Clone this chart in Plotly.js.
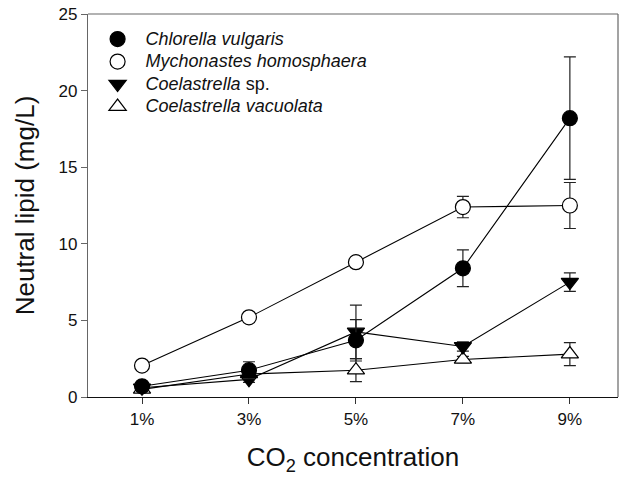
<!DOCTYPE html>
<html>
<head>
<meta charset="utf-8">
<script src="https://cdn.plot.ly/plotly-3.0.1.min.js"></script>
<style>html,body{margin:0;padding:0;background:#fff;}#chart{width:623px;height:478px;}</style>
</head>
<body>
<div id="chart"></div>
<script>
const categories = ["1%", "3%", "5%", "7%", "9%"];

const chlorella = [0.7, 1.75, 3.7, 8.4, 18.2];
const chlorellaErr = [0.15, 0.55, 1.35, 1.2, 4.0];

const mychonastes = [2.05, 5.2, 8.8, 12.4, 12.5];
const mychonastesErr = [0.1, 0.15, 0.15, 0.7, 1.5];

const coelSp = [0.6, 1.15, 4.25, 3.3, 7.5];
const coelSpErr = [0.1, 0.2, 1.75, 0.3, 0.6];

const coelVac = [0.5, 1.5, 1.75, 2.45, 2.8];
const coelVacErr = [0.1, 0.2, 0.75, 0.2, 0.75];

const names = ["<i>Chlorella vulgaris</i>", "<i>Mychonastes homosphaera</i>", "<i>Coelastrella</i> sp.", "<i>Coelastrella vacuolata</i>"];

function big(s) { return '<span style="font-size:18px">' + s + '</span>'; }

function lineTrace(y) {
  return {x: categories, y: y, type: "scatter", mode: "lines", showlegend: false,
          hoverinfo: "skip", line: {color: "#000", width: 1.1}};
}
function markTrace(y, err, name, symbol, fill, rank) {
  return {
    x: categories, y: y, name: big(name), type: "scatter", mode: "markers", legendrank: rank,
    marker: {symbol: symbol, size: 15, color: fill, line: {color: "#000", width: 1.2}},
    error_y: {type: "data", array: err, visible: true, color: "#222", thickness: 1.2, width: 6}
  };
}

const data = [
  lineTrace(coelVac), lineTrace(mychonastes), lineTrace(coelSp), lineTrace(chlorella),
  markTrace(coelVac, coelVacErr, names[3], "triangle-up", "#fff", 4),
  markTrace(mychonastes, mychonastesErr, names[1], "circle", "#fff", 2),
  markTrace(coelSp, coelSpErr, names[2], "triangle-down", "#000", 3),
  markTrace(chlorella, chlorellaErr, names[0], "circle", "#000", 1)
];

const layout = {
  width: 623, height: 478,
  margin: {l: 88, r: 5, t: 14, b: 81},
  paper_bgcolor: "#fff", plot_bgcolor: "#fff",
  font: {family: "Liberation Sans, Arial, sans-serif", color: "#111", size: 16},
  showlegend: true,
  legend: {x: 0.003, y: 0.977, xanchor: "left", yanchor: "top", itemwidth: 46,
           bgcolor: "rgba(0,0,0,0)", font: {size: 15, color: "#111"}, tracegroupgap: 0},
  xaxis: {
    type: "category", range: [-0.505, 4.45],
    showgrid: false, zeroline: false, showline: true, linecolor: "#111", linewidth: 1.2, mirror: false,
    ticks: "outside", ticklen: 6, tickcolor: "#333", tickfont: {size: 17, color: "#111"},
    title: {text: "CO<sub>2</sub> concentration", font: {size: 26, color: "#111"}, standoff: 20}
  },
  yaxis: {
    range: [0, 25], tickvals: [0, 5, 10, 15, 20, 25],
    showgrid: false, zeroline: false, showline: true, linecolor: "#666", linewidth: 1.2, mirror: false,
    ticks: "outside", ticklen: 6, tickcolor: "#666", tickfont: {size: 17, color: "#111"},
    title: {text: "Neutral lipid (mg/L)", font: {size: 26, color: "#111"}, standoff: 16}
  },
  shapes: [
    {type: "line", xref: "paper", yref: "paper", x0: 0, x1: 1, y0: 1, y1: 1, line: {color: "#666", width: 1.2}},
    {type: "line", xref: "paper", yref: "paper", x0: 1, x1: 1, y0: 0, y1: 1, line: {color: "#666", width: 1.2}}
  ]
};

Plotly.newPlot("chart", data, layout, {displayModeBar: false, staticPlot: true});
</script>
</body>
</html>
